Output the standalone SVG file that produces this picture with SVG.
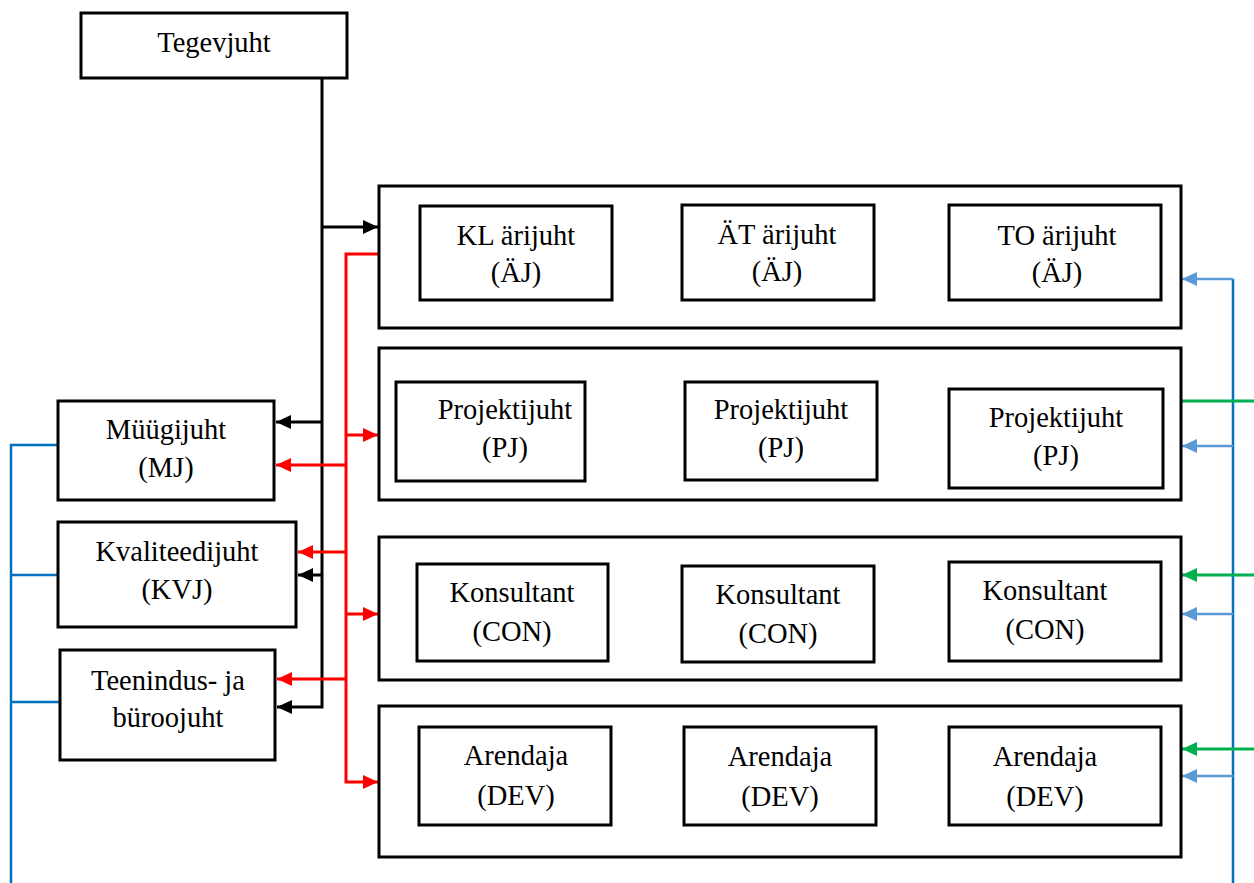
<svg xmlns="http://www.w3.org/2000/svg" width="1254" height="883" viewBox="0 0 1254 883">
<style>
.box{fill:#fff;stroke:#000;stroke-width:3}
.t{font-family:"Liberation Serif","Times New Roman",serif;font-size:28.5px;fill:#000;text-anchor:middle}
.k{fill:none;stroke:#000;stroke-width:3}
.r{fill:none;stroke:#FF0000;stroke-width:3}
.g{fill:none;stroke:#00B050;stroke-width:3}
.bd{fill:none;stroke:#0070C0;stroke-width:2.5}
.bl{fill:none;stroke:#5B9BD5;stroke-width:2.5}
</style>
<defs>
<marker id="ak" markerUnits="userSpaceOnUse" markerWidth="16" markerHeight="14" refX="15" refY="7" orient="auto"><path d="M0,0 L15,7 L0,14 z" fill="#000"/></marker>
<marker id="ar" markerUnits="userSpaceOnUse" markerWidth="16" markerHeight="14" refX="15" refY="7" orient="auto"><path d="M0,0 L15,7 L0,14 z" fill="#FF0000"/></marker>
<marker id="ag" markerUnits="userSpaceOnUse" markerWidth="16" markerHeight="14" refX="15" refY="7" orient="auto"><path d="M0,0 L15,7 L0,14 z" fill="#00B050"/></marker>
<marker id="ab" markerUnits="userSpaceOnUse" markerWidth="16" markerHeight="14" refX="15" refY="7" orient="auto"><path d="M0,0 L15,7 L0,14 z" fill="#5B9BD5"/></marker>
</defs>
<g id="connectors">
<path class="k" d="M322,78 V707 H277" marker-end="url(#ak)"/>
<path class="k" d="M322,227 H378" marker-end="url(#ak)"/>
<path class="k" d="M322,422 H276" marker-end="url(#ak)"/>
<path class="k" d="M322,575 H298" marker-end="url(#ak)"/>
<path class="r" d="M379,254 H346 V782 H378" marker-end="url(#ar)"/>
<path class="r" d="M346,435 H378" marker-end="url(#ar)"/>
<path class="r" d="M346,614 H378" marker-end="url(#ar)"/>
<path class="r" d="M346,465 H276" marker-end="url(#ar)"/>
<path class="r" d="M346,552 H298" marker-end="url(#ar)"/>
<path class="r" d="M346,679 H277" marker-end="url(#ar)"/>
<path class="bd" d="M1233,279 V883"/>
<path class="bl" d="M1233,279 H1182" marker-end="url(#ab)"/>
<path class="bl" d="M1233,446 H1182" marker-end="url(#ab)"/>
<path class="bl" d="M1233,614 H1182" marker-end="url(#ab)"/>
<path class="bl" d="M1233,776 H1182" marker-end="url(#ab)"/>
<path class="g" d="M1254,401 H1181"/>
<path class="g" d="M1254,575 H1182" marker-end="url(#ag)"/>
<path class="g" d="M1254,749 H1182" marker-end="url(#ag)"/>
<path class="bd" d="M11,883 V445 H58"/>
<path class="bd" d="M11,575 H58"/>
<path class="bd" d="M11,702 H60"/>
</g>
<g id="tegevjuht"><rect class="box" x="81" y="13" width="266" height="65"/><text class="t" x="214" y="52">Tegevjuht</text></g>
<g id="row1"><rect class="box" x="379" y="186" width="802" height="142"/></g>
<g id="row2"><rect class="box" x="379" y="348" width="802" height="152"/></g>
<g id="row3"><rect class="box" x="379" y="537" width="802" height="143"/></g>
<g id="row4"><rect class="box" x="379" y="706" width="802" height="151"/></g>
<g id="kl"><rect class="box" x="420" y="206" width="192" height="94"/><text class="t" x="516" y="245">KL ärijuht</text><text class="t" x="516" y="282">(ÄJ)</text></g>
<g id="at"><rect class="box" x="682" y="205" width="192" height="95"/><text class="t" x="777" y="244">ÄT ärijuht</text><text class="t" x="777" y="281">(ÄJ)</text></g>
<g id="to"><rect class="box" x="949" y="205" width="212" height="95"/><text class="t" x="1057" y="245">TO ärijuht</text><text class="t" x="1057" y="282">(ÄJ)</text></g>
<g id="pj1"><rect class="box" x="396" y="382" width="189" height="99"/><text class="t" x="505" y="419">Projektijuht</text><text class="t" x="505" y="457">(PJ)</text></g>
<g id="pj2"><rect class="box" x="685" y="382" width="192" height="98"/><text class="t" x="781" y="419">Projektijuht</text><text class="t" x="781" y="457">(PJ)</text></g>
<g id="pj3"><rect class="box" x="949" y="389" width="214" height="99"/><text class="t" x="1056" y="427">Projektijuht</text><text class="t" x="1056" y="465">(PJ)</text></g>
<g id="con1"><rect class="box" x="417" y="564" width="191" height="97"/><text class="t" x="512" y="602">Konsultant</text><text class="t" x="512" y="641">(CON)</text></g>
<g id="con2"><rect class="box" x="682" y="566" width="192" height="96"/><text class="t" x="778" y="604">Konsultant</text><text class="t" x="778" y="643">(CON)</text></g>
<g id="con3"><rect class="box" x="949" y="562" width="212" height="99"/><text class="t" x="1045" y="600">Konsultant</text><text class="t" x="1045" y="639">(CON)</text></g>
<g id="dev1"><rect class="box" x="419" y="727" width="192" height="98"/><text class="t" x="516" y="765">Arendaja</text><text class="t" x="516" y="805">(DEV)</text></g>
<g id="dev2"><rect class="box" x="684" y="727" width="192" height="98"/><text class="t" x="780" y="766">Arendaja</text><text class="t" x="780" y="806">(DEV)</text></g>
<g id="dev3"><rect class="box" x="949" y="727" width="212" height="98"/><text class="t" x="1045" y="766">Arendaja</text><text class="t" x="1045" y="806">(DEV)</text></g>
<g id="mj"><rect class="box" x="58" y="401" width="216" height="99"/><text class="t" x="166" y="439">Müügijuht</text><text class="t" x="166" y="477">(MJ)</text></g>
<g id="kvj"><rect class="box" x="58" y="522" width="238" height="105"/><text class="t" x="177" y="561">Kvaliteedijuht</text><text class="t" x="177" y="599">(KVJ)</text></g>
<g id="tj"><rect class="box" x="60" y="650" width="215" height="110"/><text class="t" x="168" y="690">Teenindus- ja</text><text class="t" x="168" y="727">büroojuht</text></g>
</svg>
